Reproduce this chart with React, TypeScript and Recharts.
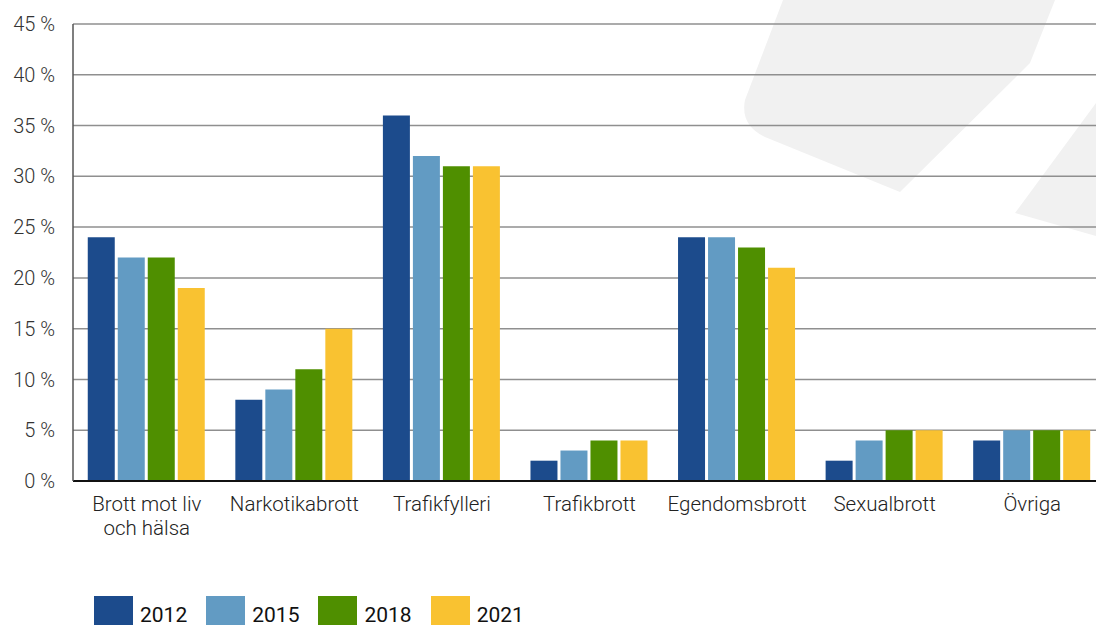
import { BarChart, Bar, XAxis, YAxis, CartesianGrid, Legend } from 'recharts';

// '\n' marks where a tick label breaks onto a second line
const categories = [
  'Brott mot liv\noch hälsa',
  'Narkotikabrott',
  'Trafikfylleri',
  'Trafikbrott',
  'Egendomsbrott',
  'Sexualbrott',
  'Övriga',
];

const years = ['2012', '2015', '2018', '2021'];
const colors = ['#1c4b8c', '#629bc3', '#4f8f00', '#f9c231'];

const values2012 = [24, 8, 36, 2, 24, 2, 4];
const values2015 = [22, 9, 32, 3, 24, 4, 5];
const values2018 = [22, 11, 31, 4, 23, 5, 5];
const values2021 = [19, 15, 31, 4, 21, 5, 5];

const yTicks = [0, 5, 10, 15, 20, 25, 30, 35, 40, 45];

const seriesValues = [values2012, values2015, values2018, values2021];

const data = categories.map((name, i) => {
  const row: Record<string, string | number> = { name };
  years.forEach((y, s) => {
    row[y] = seriesValues[s][i];
  });
  return row;
});

const FONT = 'Roboto, "DejaVu Sans", sans-serif';

function CategoryTick(props: any) {
  const { x, y, payload } = props;
  const lines = String(payload.value).split('\n');
  return (
    <text
      x={x}
      y={y + 4}
      textAnchor="middle"
      fill="#222"
      fontSize={20.5}
      fontFamily={FONT}
      fontWeight={300}
    >
      {lines.map((line, i) => (
        <tspan key={i} x={x} dy={i === 0 ? '0.9em' : 24}>
          {line}
        </tspan>
      ))}
    </text>
  );
}

function YearLegend() {
  return (
    <div style={{ display: 'flex', alignItems: 'flex-end', fontFamily: FONT }}>
      {years.map((y, i) => (
        <div key={y} style={{ display: 'flex', alignItems: 'flex-end', marginRight: 19 }}>
          <div style={{ width: 39, height: 29, background: colors[i] }} />
          <span
            style={{
              marginLeft: 7,
              fontSize: 21,
              fontWeight: 400,
              color: '#111',
              lineHeight: '21px',
              marginBottom: -1,
            }}
          >
            {y}
          </span>
        </div>
      ))}
    </div>
  );
}

export default function App() {
  return (
    <div
      style={{
        position: 'absolute',
        left: 0,
        top: 0,
        width: 1096,
        height: 627,
        overflow: 'hidden',
        background: '#fff',
      }}
    >
      {/* faint background watermark */}
      <svg width={1096} height={627} style={{ position: 'absolute', left: 0, top: 0 }}>
        <path
          d="M783,0 L1055,0 L1030,63 L900,192 L765,137 Q740,125 745,100 Z"
          fill="#f1f1f1"
        />
        <path d="M1096,103 L1015,213 L1096,236 Z" fill="#f1f1f1" />
      </svg>
      <div style={{ position: 'absolute', left: 0, top: 0 }}>
        <BarChart
          width={1106}
          height={627}
          data={data}
          margin={{ top: 24, right: 0, bottom: 0, left: 0 }}
          barCategoryGap="10%"
          barGap={3}
        >
          <CartesianGrid vertical={false} stroke="#8f8f8f" strokeWidth={1.5} />
          <XAxis
            dataKey="name"
            height={111}
            tickLine={false}
            axisLine={{ stroke: '#111', strokeWidth: 2 }}
            interval={0}
            tick={<CategoryTick />}
          />
          <YAxis
            width={73}
            domain={[0, 45]}
            ticks={yTicks}
            tickFormatter={(v: number) => `${v} %`}
            tickLine={false}
            axisLine={{ stroke: '#555', strokeWidth: 1.5 }}
            tickMargin={12}
            tick={{ fill: '#333', fontSize: 20, fontFamily: FONT, fontWeight: 300 }}
          />
          <Legend
            verticalAlign="bottom"
            align="left"
            height={35}
            content={() => <YearLegend />}
            wrapperStyle={{ left: 94, top: 596, width: 'auto' }}
          />
          {years.map((y, i) => (
            <Bar key={y} dataKey={y} fill={colors[i]} isAnimationActive={false} />
          ))}
        </BarChart>
      </div>
    </div>
  );
}
